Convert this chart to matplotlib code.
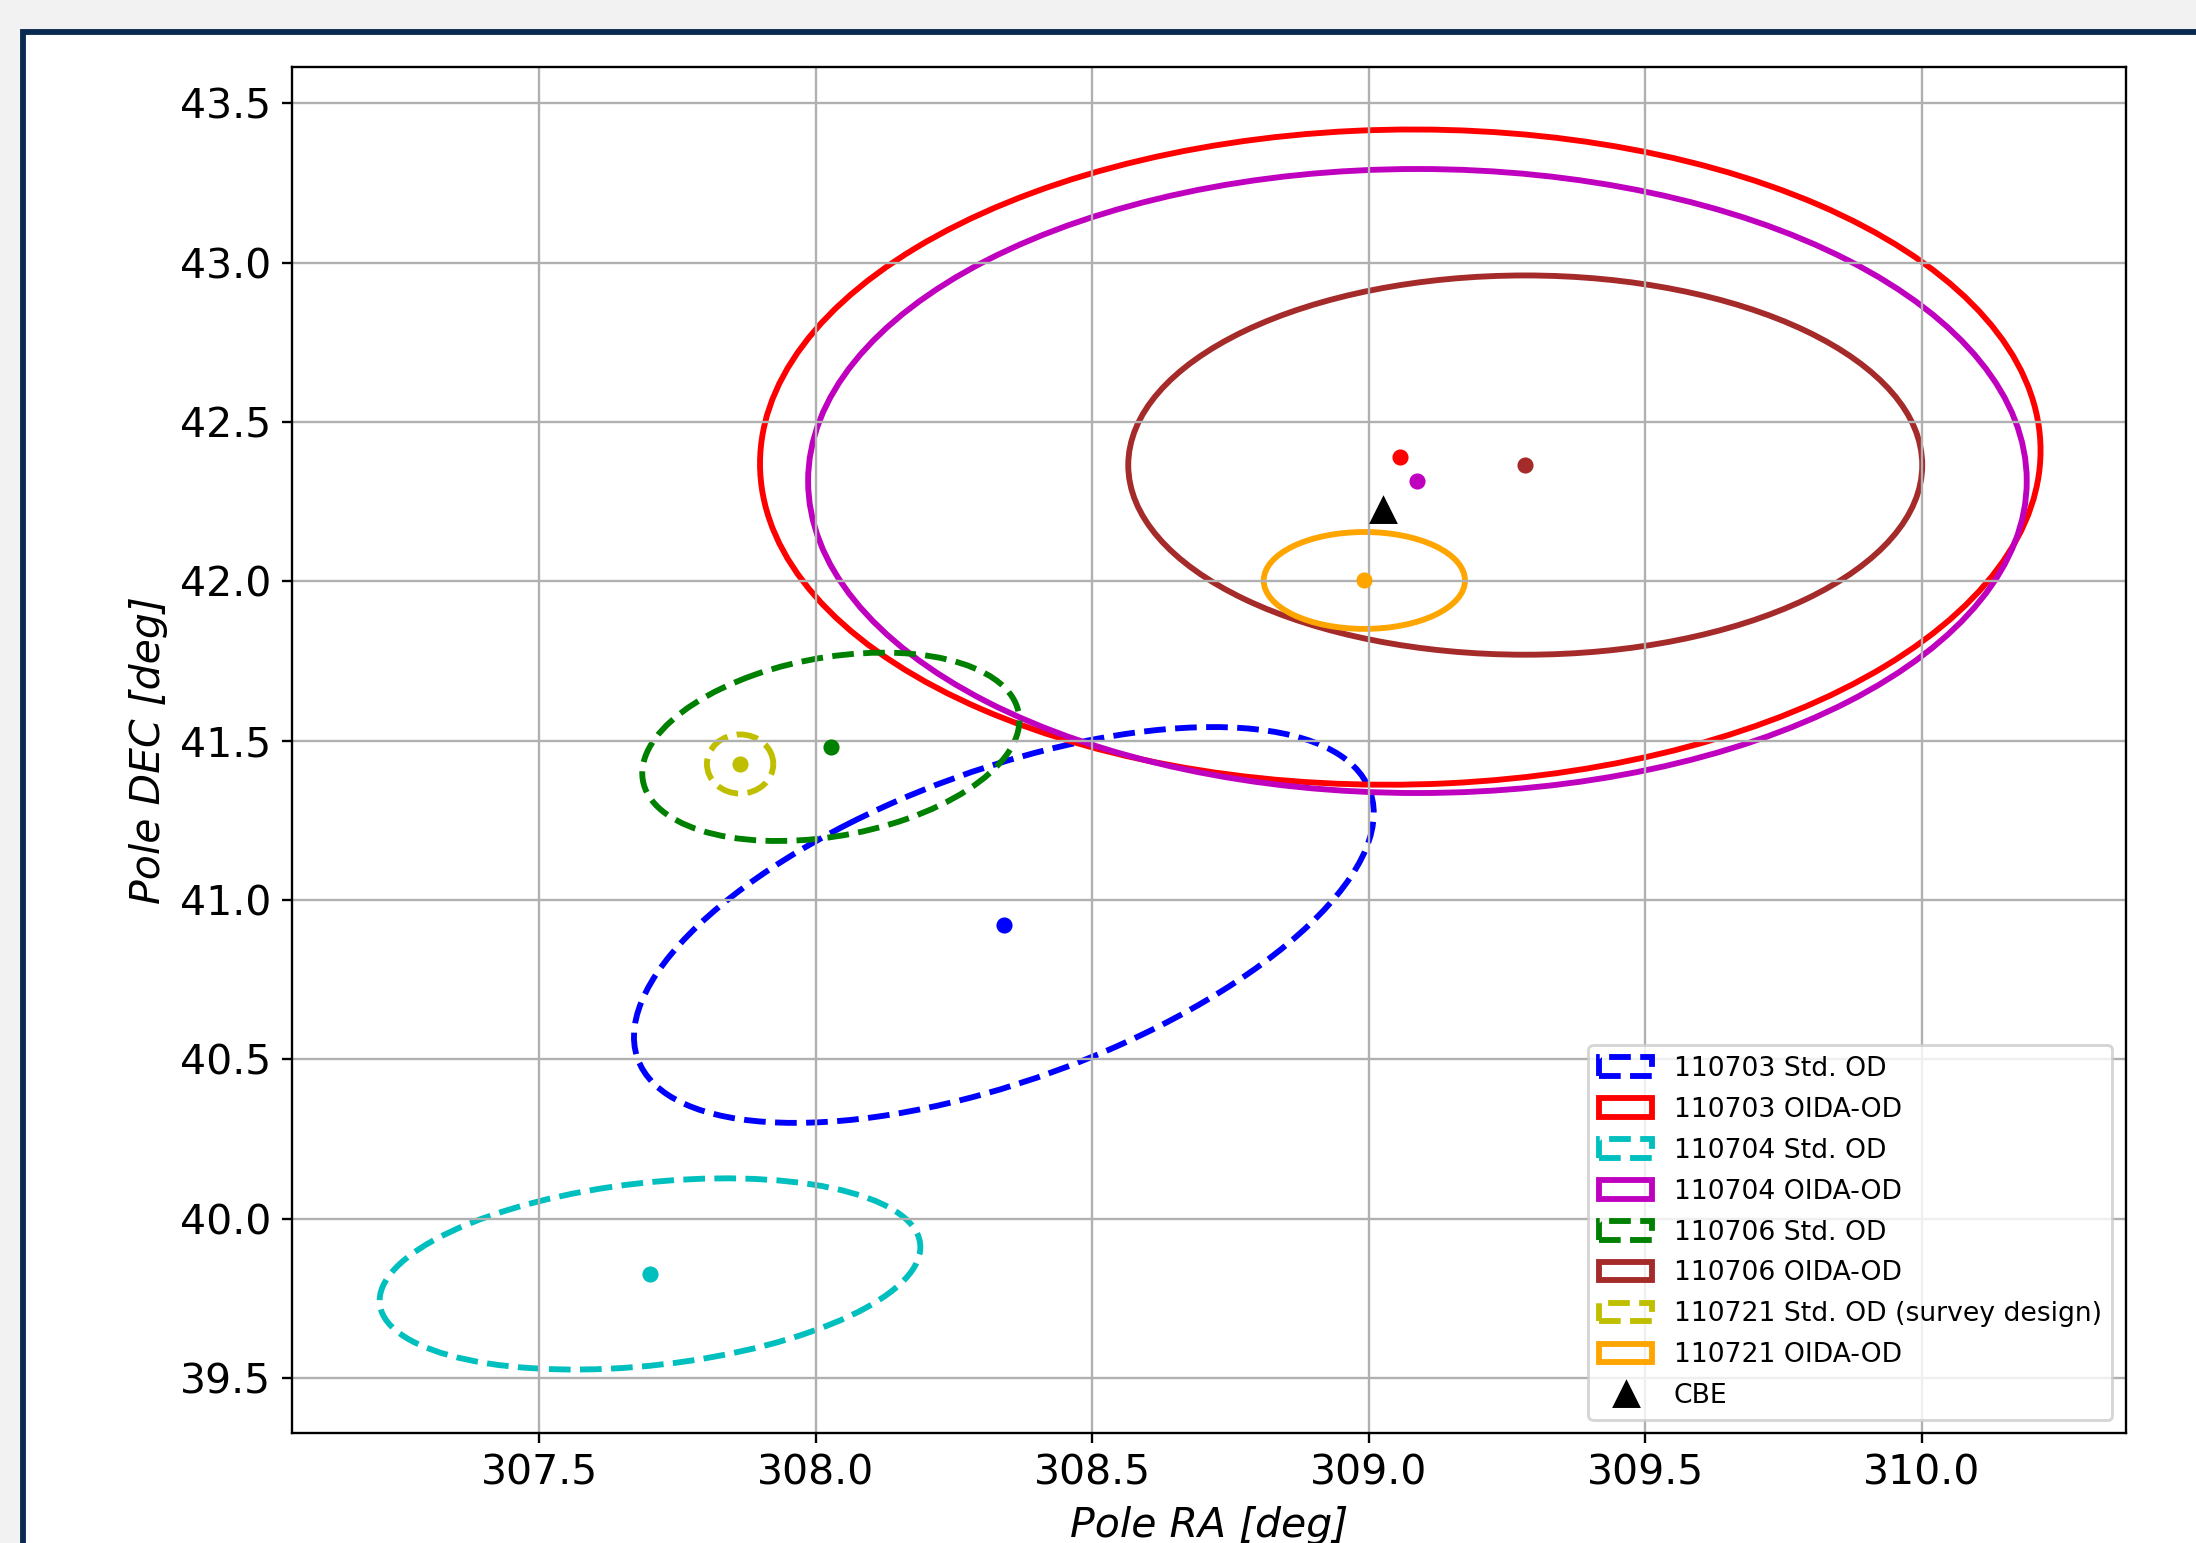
import numpy as np
import matplotlib
matplotlib.use("Agg")
import matplotlib.pyplot as plt
from matplotlib.patches import Ellipse, Rectangle

# ---- data ----
labels = ["110703 Std. OD", "110703 OIDA-OD", "110704 Std. OD", "110704 OIDA-OD",
          "110706 Std. OD", "110706 OIDA-OD", "110721 Std. OD (survey design)",
          "110721 OIDA-OD"]
colors = ["b", "r", "c", "m", "g", "brown", "y", "orange"]
styles = ["--", "-", "--", "-", "--", "-", "--", "-"]
center_ra = [308.340, 309.057, 307.700, 309.088, 308.027, 309.283, 307.863, 308.992]
center_dec = [40.922, 42.390, 39.827, 42.315, 41.481, 42.365, 41.427, 42.003]
sigma_ra = [0.669, 1.158, 0.489, 1.102, 0.341, 0.718, 0.060, 0.182]
sigma_dec = [0.621, 1.028, 0.300, 0.979, 0.2955, 0.595, 0.0927, 0.152]
rho = [0.565, 0.02, 0.28, 0.0, 0.28, 0.0, 0.0, 0.0]
cbe_ra = [309.025]
cbe_dec = [42.225]
xticks = [307.5, 308.0, 308.5, 309.0, 309.5, 310.0]
yticks = [39.5, 40.0, 40.5, 41.0, 41.5, 42.0, 42.5, 43.0, 43.5]

DPI = 211
fig = plt.figure(figsize=(2196 / DPI, 1543 / DPI), dpi=DPI)
fig.patch.set_facecolor("#f2f2f2")
frame = Rectangle((22.5 / 2196, -0.1), 1.2, 1.1 - 32 / 1543,
                  transform=fig.transFigure, facecolor="white",
                  edgecolor="#0b2a4f", linewidth=2.0, zorder=-5)
fig.patches.append(frame)

ax = fig.add_axes([291.7 / 2196, 1 - 1433.3 / 1543,
                   (2125.7 - 291.7) / 2196, (1433.3 - 66.7) / 1543])

for i in range(len(labels)):
    sx, sy, r = sigma_ra[i], sigma_dec[i], rho[i]
    cov = np.array([[sx * sx, r * sx * sy], [r * sx * sy, sy * sy]])
    vals, vecs = np.linalg.eigh(cov)
    order = vals.argsort()[::-1]
    vals, vecs = vals[order], vecs[:, order]
    ang = np.degrees(np.arctan2(vecs[1, 0], vecs[0, 0]))
    e = Ellipse((center_ra[i], center_dec[i]), 2 * np.sqrt(vals[0]), 2 * np.sqrt(vals[1]),
                angle=ang, facecolor="none", edgecolor=colors[i], linestyle=styles[i],
                linewidth=2, label=labels[i])
    ax.add_patch(e)
    ax.plot([center_ra[i]], [center_dec[i]], "o", color=colors[i], markersize=4.5)

ax.plot(cbe_ra, cbe_dec, "^", color="k", markersize=8.5, linestyle="none", label="CBE")

ax.set_xlim(307.052, 310.369)
ax.set_ylim(39.327, 43.615)
ax.set_xticks(xticks)
ax.set_yticks(yticks)
ax.tick_params(labelsize=14)
ax.grid(True)
ax.set_xlabel("Pole RA [deg]", fontsize=14, style="italic")
ax.set_ylabel("Pole DEC [deg]", fontsize=14, style="italic")
ax.legend(loc="lower right", fontsize=9.1, labelspacing=0.56)

fig.savefig("out.png", dpi=DPI, facecolor=fig.get_facecolor())
